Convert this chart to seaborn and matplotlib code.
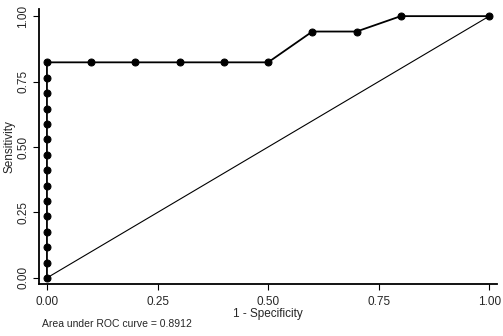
import matplotlib
matplotlib.use("Agg")
import matplotlib.pyplot as plt
import seaborn as sns
import pandas as pd

# Pontos da curva ROC
fpr = [0.0, 0.0, 0.0, 0.0, 0.0, 0.0, 0.0, 0.0, 0.0, 0.0, 0.0, 0.0, 0.0, 0.0, 0.0,
       0.1, 0.2, 0.3, 0.4, 0.5, 0.6, 0.7, 0.8, 1.0]
tpr = [0.0, 0.0588, 0.1176, 0.1765, 0.2353, 0.2941, 0.3529, 0.4118, 0.4706,
       0.5294, 0.5882, 0.6471, 0.7059, 0.7647, 0.8235,
       0.8235, 0.8235, 0.8235, 0.8235, 0.8235, 0.9412, 0.9412, 1.0, 1.0]
ref_x = [0.0, 1.0]
ref_y = [0.0, 1.0]
ticks = [0.0, 0.25, 0.5, 0.75, 1.0]
tick_labels = ["0.00", "0.25", "0.50", "0.75", "1.00"]
auc_text = "Area under ROC curve = 0.8912"

df = pd.DataFrame({"fpr": fpr, "tpr": tpr})
ref = pd.DataFrame({"x": ref_x, "y": ref_y})

sns.set_theme(style="white")
plt.rcParams["font.family"] = ["Liberation Sans", "DejaVu Sans"]

fig = plt.figure(figsize=(5.03, 3.36), dpi=100)
ax = fig.add_axes([0.0775, 0.155, 0.911, 0.818])

# linha de referencia (diagonal)
sns.lineplot(data=ref, x="x", y="y", color="black", linewidth=0.8,
             estimator=None, ax=ax)
# curva ROC
sns.lineplot(data=df, x="fpr", y="tpr", sort=False, estimator=None,
             color="black", linewidth=1.3, marker="o", markersize=5,
             markeredgecolor="black", ax=ax)

ax.set_xlim(-0.018, 1.018)
ax.set_ylim(-0.023, 1.027)
ax.set_xticks(ticks)
ax.set_xticklabels(tick_labels, fontsize=8.5)
ax.set_yticks(ticks)
ax.set_yticklabels(tick_labels, fontsize=8.5, rotation=90, va="center")
ax.set_xlabel("1 - Specificity", fontsize=8.5, labelpad=0)
ax.set_ylabel("Sensitivity", fontsize=8.5, labelpad=1)

for s in ["top", "right"]:
    ax.spines[s].set_visible(False)
for s in ["left", "bottom"]:
    ax.spines[s].set_color("black")
    ax.spines[s].set_linewidth(1.3)
ax.tick_params(axis="both", direction="out", length=4, width=0.8, color="black",
               pad=5, bottom=True, left=True)
ax.tick_params(axis="y", pad=3)

fig.text(0.083, 0.027, auc_text, fontsize=7.5, ha="left", va="baseline")

fig.savefig("out.png", dpi=100)
